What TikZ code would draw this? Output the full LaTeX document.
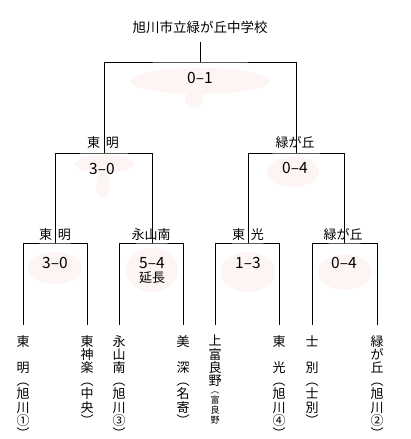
\documentclass[tikz,border=0pt]{standalone}
\usepackage{fontspec}
\setmainfont{Noto Sans CJK JP}
\usetikzlibrary{positioning}
\definecolor{blobPink}{HTML}{FDF4F4}

\begin{document}
\begin{tikzpicture}[x=1pt, y=-1pt,
    bracket/.style={draw=black, line width=0.8pt},
    school/.style={font=\fontsize{13.5}{14}\selectfont, inner sep=0pt},
    winner/.style={font=\fontsize{13}{14}\selectfont, inner sep=0pt},
    score/.style={font=\fontsize{15.5}{16}\selectfont, inner sep=0pt},
    team/.style={font=\fontsize{13}{13.2}\selectfont, inner sep=0pt,
                 align=center, anchor=north},
    smallteam/.style={font=\fontsize{9}{10}\selectfont, inner sep=0pt,
                 align=center, anchor=north},
    blob/.style={fill=blobPink, draw=none},
  ]
    \useasboundingbox (0,0) rectangle (410,439);

    % faint marks behind the scores
    \fill[blob] (200,81) ellipse [x radius=70, y radius=13];
    \fill[blob] (194,99) circle [radius=9];
    \fill[blob] (105,164) ellipse [x radius=30, y radius=9];
    \fill[blob] (103,185) ellipse [x radius=7, y radius=13];
    \fill[blob] (293,172) ellipse [x radius=26, y radius=15];
    \fill[blob] (55,268) ellipse [x radius=27, y radius=16];
    \fill[blob] (152,270) ellipse [x radius=26, y radius=22];
    \fill[blob] (248,272) ellipse [x radius=27, y radius=20];
    \fill[blob] (345,272) ellipse [x radius=27, y radius=18];

    % title and final
    \node[school] (title) at (200,27) {旭川市立緑が丘中学校};
    \coordinate (stem) at (200,42);
    \coordinate (f) at (200,62);
    \coordinate (s1) at (104,153);
    \coordinate (s2) at (296,153);
    \draw[bracket] (stem) -- (f);
    \draw[bracket] (s1) |- (f) -| (s2);
    \node[score] (sc0) at (200,78) {0–1};

    % semi finals
    \node[winner] (w1) at (103,143) {東\hspace{6pt}明};
    \node[winner] (w2) at (295,143) {緑が丘};
    \coordinate (q1) at (55,243);
    \coordinate (q2) at (152,243);
    \coordinate (q3) at (248,243);
    \coordinate (q4) at (344,243);
    \draw[bracket] (q1) |- (s1) -| (q2);
    \draw[bracket] (q3) |- (s2) -| (q4);
    \node[score] (sc1) at (102,169) {3–0};
    \node[score] (sc2) at (295,168) {0–4};

    % first round
    \node[winner] (w11) at (55,235) {東\hspace{6pt}明};
    \node[winner] (w12) at (151,235) {永山南};
    \node[winner] (w21) at (248,235) {東\hspace{6pt}光};
    \node[winner] (w22) at (343,235) {緑が丘};
    \coordinate (l1) at (23,325);
    \coordinate (l2) at (87,325);
    \coordinate (l3) at (119,325);
    \coordinate (l4) at (183,325);
    \coordinate (l5) at (215,325);
    \coordinate (l6) at (279,325);
    \coordinate (l7) at (312,325);
    \coordinate (l8) at (377,325);
    \draw[bracket] (l1) |- (q1) -| (l2);
    \draw[bracket] (l3) |- (q2) -| (l4);
    \draw[bracket] (l5) |- (q3) -| (l6);
    \draw[bracket] (l7) |- (q4) -| (l8);
    \node[score] (sc11) at (55,263) {3–0};
    \node[score] (sc12) at (152,263) {5–4};
    \node[winner, below=3pt of sc12] (ot) {延長};
    \node[score] (sc21) at (248,263) {1–3};
    \node[score] (sc22) at (344,263) {0–4};

    % teams
    \node[team, below=10pt of l1] (t1) {東\\\mbox{}\\明\\︵\\旭\\川\\①\\︶};
    \node[team, below=10pt of l2] (t2) {東\\神\\楽\\︵\\中\\央\\︶};
    \node[team, below=10pt of l3] (t3) {永\\山\\南\\︵\\旭\\川\\③\\︶};
    \node[team, below=10pt of l4] (t4) {美\\\mbox{}\\深\\︵\\名\\寄\\︶};
    \node[team, below=10pt of l5] (t5) {上\\富\\良\\野};
    \node[smallteam, below=5pt of t5] (t5s) {︵\\富\\良\\野};
    \node[team, below=10pt of l6] (t6) {東\\\mbox{}\\光\\︵\\旭\\川\\④\\︶};
    \node[team, below=10pt of l7] (t7) {士\\\mbox{}\\別\\︵\\士\\別\\︶};
    \node[team, below=10pt of l8] (t8) {緑\\が\\丘\\︵\\旭\\川\\②\\︶};
  \end{tikzpicture}
\end{document}
